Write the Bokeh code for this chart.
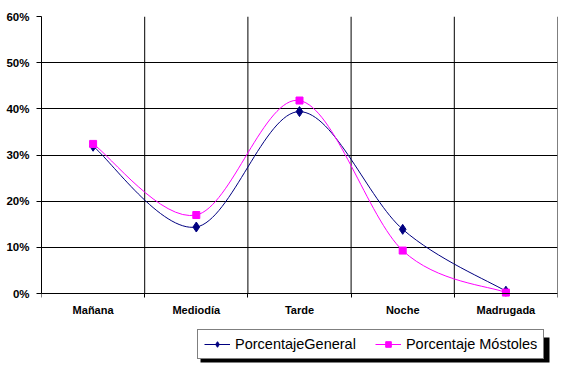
import numpy as np
from bokeh.plotting import figure
from bokeh.models import (ColumnDataSource, FixedTicker, Legend, LegendItem,
                          Range1d, NumeralTickFormatter, BoxAnnotation)
from bokeh.embed import file_html
from bokeh.resources import INLINE

categories = ["Mañana", "Mediodía", "Tarde", "Noche", "Madrugada"]
general = [0.319, 0.144, 0.394, 0.139, 0.005]
mostoles = [0.324, 0.170, 0.418, 0.093, 0.002]
y_ticks = [0.0, 0.1, 0.2, 0.3, 0.4, 0.5, 0.6]

xc = [i + 0.5 for i in range(len(categories))]
bounds = list(range(len(categories) + 1))

NAVY = "#000080"
MAG = "#FF00FF"
FONT = "Liberation Sans"

# layout (pixels)
W, H = 558, 364
TOP, LEFT, RIGHT = 16, 41, 1
ZERO_PX = 293
y_max = y_ticks[-1]
y_min = -y_max * (H - ZERO_PX) / (ZERO_PX - TOP)

p = figure(width=W, height=H, output_backend="svg", toolbar_location=None,
           x_range=Range1d(0, len(categories)), y_range=Range1d(y_min, y_max),
           min_border_left=LEFT, min_border_right=RIGHT, min_border_top=TOP,
           min_border_bottom=0)
p.outline_line_color = None
p.background_fill_color = "white"
p.border_fill_color = "white"

# vertical category-boundary grid lines, limited to the value range
p.segment(x0=bounds, y0=[0] * len(bounds), x1=bounds, y1=[y_max] * len(bounds),
          line_color="black", line_width=1)
p.xgrid.visible = False
p.ygrid.ticker = FixedTicker(ticks=y_ticks)
p.ygrid.grid_line_color = "black"
p.ygrid.grid_line_alpha = 1.0


def bezier_source(xs, ys, t=1.0 / 6.0):
    n = len(xs)
    P = np.column_stack([xs, ys])
    d = dict(x0=[], y0=[], x1=[], y1=[], cx0=[], cy0=[], cx1=[], cy1=[])
    for i in range(n - 1):
        p0 = P[max(i - 1, 0)]
        p1 = P[i]
        p2 = P[i + 1]
        p3 = P[min(i + 2, n - 1)]
        c1 = p1 + (p2 - p0) * t
        c2 = p2 - (p3 - p1) * t
        d["x0"].append(p1[0]); d["y0"].append(p1[1])
        d["x1"].append(p2[0]); d["y1"].append(p2[1])
        d["cx0"].append(c1[0]); d["cy0"].append(c1[1])
        d["cx1"].append(c2[0]); d["cy1"].append(c2[1])
    return ColumnDataSource(d)


src_g = bezier_source(xc, general)
src_m = bezier_source(xc, mostoles)

p.bezier(x0="x0", y0="y0", x1="x1", y1="y1", cx0="cx0", cy0="cy0",
         cx1="cx1", cy1="cy1", source=src_g, line_color=NAVY, line_width=1)
p.bezier(x0="x0", y0="y0", x1="x1", y1="y1", cx0="cx0", cy0="cy0",
         cx1="cx1", cy1="cy1", source=src_m, line_color=MAG, line_width=1)

sc_g = p.scatter(xc, general, marker="diamond", size=10, color=NAVY)
sc_m = p.scatter(xc, mostoles, marker="square", size=7, color=MAG)

# legend-only renderers (no visible data)
lg_g = p.line([np.nan], [np.nan], line_color=NAVY, line_width=1)
lg_m = p.line([np.nan], [np.nan], line_color=MAG, line_width=1)
lm_g = p.scatter([np.nan], [np.nan], marker="diamond", size=8, color=NAVY)
lm_m = p.scatter([np.nan], [np.nan], marker="square", size=6, color=MAG)

# axes
p.xaxis.fixed_location = 0
p.xaxis.ticker = FixedTicker(ticks=xc, minor_ticks=bounds)
p.xaxis.major_label_overrides = {x: c for x, c in zip(xc, categories)}
p.xaxis.major_tick_out = 0
p.xaxis.major_tick_in = 0
p.xaxis.minor_tick_out = 4
p.xaxis.minor_tick_in = 0
p.xaxis.minor_tick_line_color = "black"
p.xaxis.axis_line_color = "black"
p.xaxis.major_label_standoff = 6
p.xaxis.major_label_text_font = FONT
p.xaxis.major_label_text_font_style = "bold"
p.xaxis.major_label_text_font_size = "11px"
p.xaxis.major_label_text_color = "black"

p.yaxis.bounds = (0, y_max)
p.yaxis.ticker = FixedTicker(ticks=y_ticks)
p.yaxis.formatter = NumeralTickFormatter(format="0%")
p.yaxis.major_tick_out = 5
p.yaxis.major_tick_in = 0
p.yaxis.minor_tick_line_color = None
p.yaxis.axis_line_color = "black"
p.yaxis.major_label_standoff = 7
p.yaxis.major_label_text_font = FONT
p.yaxis.major_label_text_font_style = "bold"
p.yaxis.major_label_text_font_size = "11.5px"
p.yaxis.major_label_text_color = "black"

# legend box shadow (canvas pixels), drawn before the legend
shadow = BoxAnnotation(left=200, right=549, top=337, bottom=362,
                       left_units="canvas", right_units="canvas",
                       top_units="canvas", bottom_units="canvas",
                       fill_color="black", fill_alpha=1.0, line_color=None)
p.add_layout(shadow)

legend = Legend(
    items=[LegendItem(label="PorcentajeGeneral", renderers=[lg_g, lm_g]),
           LegendItem(label="Porcentaje Móstoles", renderers=[lg_m, lm_m])],
    location=(156, 5), orientation="horizontal",
    label_text_font=FONT, label_text_font_size="14.5px",
    label_text_color="black", glyph_width=26, glyph_height=14,
    label_height=14, label_standoff=5, spacing=19, padding=6,
    margin=0, border_line_color="black", border_line_width=1,
    background_fill_color="white", background_fill_alpha=1.0,
    click_policy="none")
p.add_layout(legend, "center")

open("out.html", "w").write(file_html(p, INLINE))
